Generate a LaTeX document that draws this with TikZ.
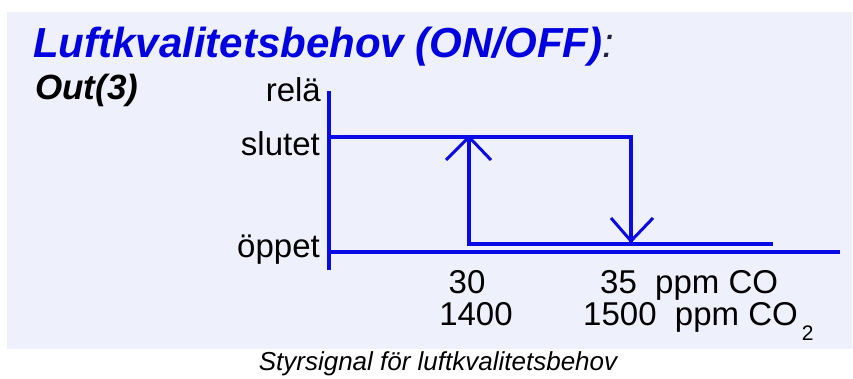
\documentclass[tikz,border=0pt]{standalone}
\usepackage{fontspec}
\setmainfont{Liberation Sans}
\definecolor{panel}{RGB}{238,240,252}
\definecolor{lineblue}{RGB}{10,10,230}
\definecolor{titleblue}{RGB}{0,0,225}
\definecolor{darknavy}{RGB}{30,30,70}
\tikzset{
  axisline/.style={draw=lineblue,line width=4pt},
  sigline/.style={draw=lineblue,line width=4pt,line join=miter},
  wing/.style={draw=lineblue,line width=3pt},
  lbl/.style={inner sep=0pt,font=\fontsize{33}{33}\selectfont,text=black},
}
\begin{document}
\begin{tikzpicture}[x=1pt,y=-1pt]
\useasboundingbox (0,0) rectangle (853,378);
\fill[panel] (7,12) rectangle (852,349);
% title
\node[anchor=base west,inner sep=0pt,text=titleblue,font=\fontsize{42}{42}\selectfont\bfseries\itshape] (title) at (33,57)
  {Luftkvalitetsbehov (ON/OFF)\textcolor{darknavy}{\mdseries:}};
\node[anchor=base west,inner sep=0pt,font=\fontsize{35}{35}\selectfont\bfseries\itshape] (out) at (35,99) {Out(3)};
% axis labels
\node[lbl,anchor=base east] (rela) at (321,101) {relä};
\node[lbl,anchor=base east] (slutet) at (320,155) {slutet};
\node[lbl,anchor=base east] (oppet) at (320,257) {öppet};
% coordinates
\coordinate (ytop) at (329,91);
\coordinate (ybot) at (329,270);
\coordinate (xl) at (329,252);
\coordinate (xr) at (840,252);
\coordinate (s0) at (329,137);
\coordinate (s1) at (631,137);
\coordinate (d1) at (631,244);
\coordinate (u0) at (469,137);
\coordinate (u1) at (469,244);
\coordinate (l1) at (773,244);
\coordinate (uwl) at (446,160);
\coordinate (uwr) at (491,160);
\coordinate (dtip) at (631,241);
\coordinate (dwl) at (611,218);
\coordinate (dwr) at (653,218);
% axes
\draw[axisline] (ytop) -- (ybot);
\draw[axisline] (xl) -- (xr);
% signal
\draw[sigline] (s0) -- (s1) -- (d1);
\draw[sigline] (u0) -- (u1) -- (l1);
% arrow wings
\draw[wing] (uwl) -- (u0) -- (uwr);
\draw[wing] (dwl) -- (dtip) -- (dwr);
% tick labels
\node[lbl,anchor=base] (n30) at (467,293) {30};
\node[lbl,anchor=base] (n1400) at (476,325) {1400};
\node[lbl,anchor=base west] (n35) at (600,293) {35~~ppm CO};
\node[lbl,anchor=base west] (n1500) at (583,325) {1500~~ppm CO\kern4pt\raisebox{-15pt}{\fontsize{21}{21}\selectfont 2}};
% caption
\node[anchor=base,inner sep=0pt,font=\fontsize{26}{26}\selectfont\itshape] (cap) at (438,370) {Styrsignal för luftkvalitetsbehov};
\end{tikzpicture}
\end{document}
